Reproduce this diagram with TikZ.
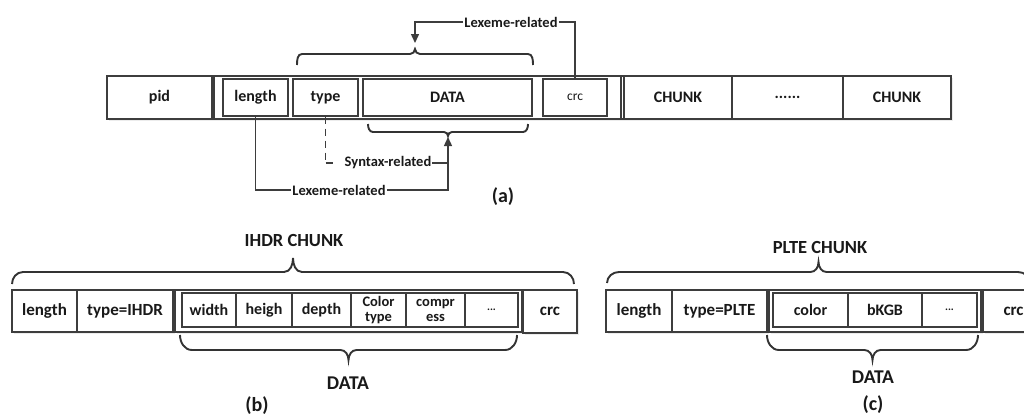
\documentclass[tikz,border=0pt]{standalone}
\usepackage{fontspec}
\setmainfont{Carlito}
\usetikzlibrary{arrows.meta,shadows}

% \cellbox[options]{name}{x1}{y1}{x2}{y2}{text}: a box given by its corners
\newcommand\cellbox[7][]{%
  \node[cell,#1,minimum width={(#5-#3)*1pt},minimum height={(#6-#4)*1pt}]
    (#2) at ({(#3+#5)/2},{(#4+#6)/2}) {#7};}

% \curly{x1}{x2}{y ends}{y bar}{y tip}{end radius}{tip half width}{90 = up, -90 = down}
\newcommand\curly[8]{%
  \pgfmathsetmacro\brA{#1+#6}%
  \pgfmathsetmacro\brB{(#1+#2)/2-#7}%
  \pgfmathsetmacro\brM{(#1+#2)/2}%
  \pgfmathsetmacro\brC{(#1+#2)/2+#7}%
  \pgfmathsetmacro\brD{#2-#6}%
  \pgfmathsetmacro\brIn{#8+180}%
  \draw[bracepen] (#1,#3) to[out=#8,in=180] (\brA,#4)
    -- (\brB,#4) to[out=0,in=\brIn] (\brM,#5)
    to[out=\brIn,in=180] (\brC,#4)
    -- (\brD,#4) to[out=0,in=#8] (#2,#3);}

\begin{document}
\begin{tikzpicture}[x=1pt,y=-1pt,
  cell/.style={draw=black!76,line width=1.4pt,fill=white,inner sep=0pt,
    align=center,text=black!90,font=\bfseries\fontsize{16}{16}\selectfont},
  frame/.style={cell,drop shadow={shadow xshift=2pt,shadow yshift=-2pt,fill=black!15}},
  small/.style={font=\bfseries\fontsize{14.5}{15}\selectfont},
  big/.style={font=\bfseries\fontsize{17}{17}\selectfont},
  wire/.style={draw=black!76,line width=1.4pt},
  bracepen/.style={draw=black!80,line width=1.9pt},
  arr/.style={wire,-{Triangle[length=9pt,width=8pt]}},
  tag/.style={font=\bfseries\fontsize{14.5}{15}\selectfont,text=black!90,inner sep=1pt},
  title/.style={font=\bfseries\fontsize{18.5}{19}\selectfont,text=black!90,inner sep=0pt},
  caption/.style={font=\bfseries\fontsize{20}{20}\selectfont,text=black!90,inner sep=0pt}
]
\useasboundingbox (0,0) rectangle (1024,416);

% ---------------- (a) file layout ----------------
\cellbox[frame]{rowA}{107}{76}{951}{119}{}
\cellbox{pid}{107}{76}{212}{119}{pid}
\cellbox{chunkA}{214}{76}{621}{119}{}
\cellbox{lenA}{223}{79}{288}{116}{length}
\cellbox{typeA}{293}{79}{358}{116}{type}
\cellbox{dataA}{363}{79}{532}{116}{DATA}
\cellbox[font=\fontsize{13.5}{13.5}\selectfont]{crcA}{543}{79}{607}{116}{crc}
\cellbox{chunkB}{624}{76}{732}{119}{CHUNK}
\cellbox{dotsA}{732}{76}{843}{119}{......}
\cellbox{chunkC}{843}{76}{951}{119}{CHUNK}

% brace over type+DATA, fed by the crc
\curly{297}{533}{65}{54}{49}{5}{5}{90}
\coordinate (tipT) at (415,43);
\node[tag] (lexA) at (511,22) {Lexeme-related};
\draw[arr] (lexA.west) -| (tipT);
\draw[wire] (lexA.east) -| (crcA.north);

% brace under DATA, fed by length and type
\curly{368}{528}{124}{132}{136}{5}{4}{-90}
\coordinate (tipB) at (448,137);
\node[tag] (syn) at (388,163) {Syntax-related};
\node[tag] (lexB) at (339,190) {Lexeme-related};
\coordinate (corner) at (typeA.south |- syn.west);
\draw[wire,dash pattern=on 7pt off 5pt] (typeA.south) -- (corner);
\draw[wire] (corner) -- ++(7,0);
\draw[wire] (syn.east) -- (syn.east -| tipB);
\draw[wire] (lenA.south) |- (lexB.west);
\draw[arr] (lexB.east) -| (tipB);
\node[caption] (capA) at (503,197) {(a)};

% ---------------- (b) IHDR chunk ----------------
\node[title] (ttlB) at (294,240) {IHDR CHUNK};
\curly{12}{574}{284}{272}{258}{11}{9}{90}
\cellbox[frame]{headB}{12}{290}{173}{332}{}
\cellbox[big]{lenB}{12}{290}{77}{332}{length}
\cellbox[big]{typeB}{77}{290}{173}{332}{type=IHDR}
\cellbox[frame]{dataB}{175}{290}{522}{332}{}
\cellbox{widthB}{182}{293}{236}{327}{width}
\cellbox{heighB}{236}{293}{292}{327}{heigh}
\cellbox{depthB}{292}{293}{351}{327}{depth}
\cellbox[small]{colorB}{351}{293}{406}{327}{Color\\type}
\cellbox[small]{comprB}{406}{293}{465}{327}{compr\\ess}
\cellbox[font=\bfseries\fontsize{11}{11}\selectfont]{moreB}{465}{293}{518}{327}{...}
\cellbox[frame,big]{crcB}{523}{290}{577}{333}{crc}
\curly{180}{517}{335}{350}{360}{12}{8}{-90}
\node[title,font=\bfseries\fontsize{19.5}{20}\selectfont] (datB) at (348,383) {DATA};
\node[caption] (capB) at (257,406) {(b)};

% ---------------- (c) PLTE chunk ----------------
\node[title] (ttlC) at (820,247) {PLTE CHUNK};
\curly{607}{1030}{283}{272}{262}{12}{8}{90}
\cellbox[frame]{headC}{606}{290}{767}{332}{}
\cellbox[big]{lenC}{606}{290}{672}{332}{length}
\cellbox[big]{typeC}{672}{290}{767}{332}{type=PLTE}
\cellbox[frame]{dataC}{769}{290}{981}{332}{}
\cellbox{colorC}{773}{293}{848}{327}{color}
\cellbox{bkgbC}{848}{293}{922}{327}{bKGB}
\cellbox[font=\bfseries\fontsize{11}{11}\selectfont]{moreC}{922}{293}{977}{327}{...}
\cellbox[frame,big]{crcC}{983}{290}{1044}{332}{crc}
\curly{767}{978}{335}{350}{360}{12}{8}{-90}
\node[title,font=\bfseries\fontsize{19.5}{20}\selectfont] (datC) at (873,377) {DATA};
\node[caption] (capC) at (873,405) {(c)};
\end{tikzpicture}
\end{document}
